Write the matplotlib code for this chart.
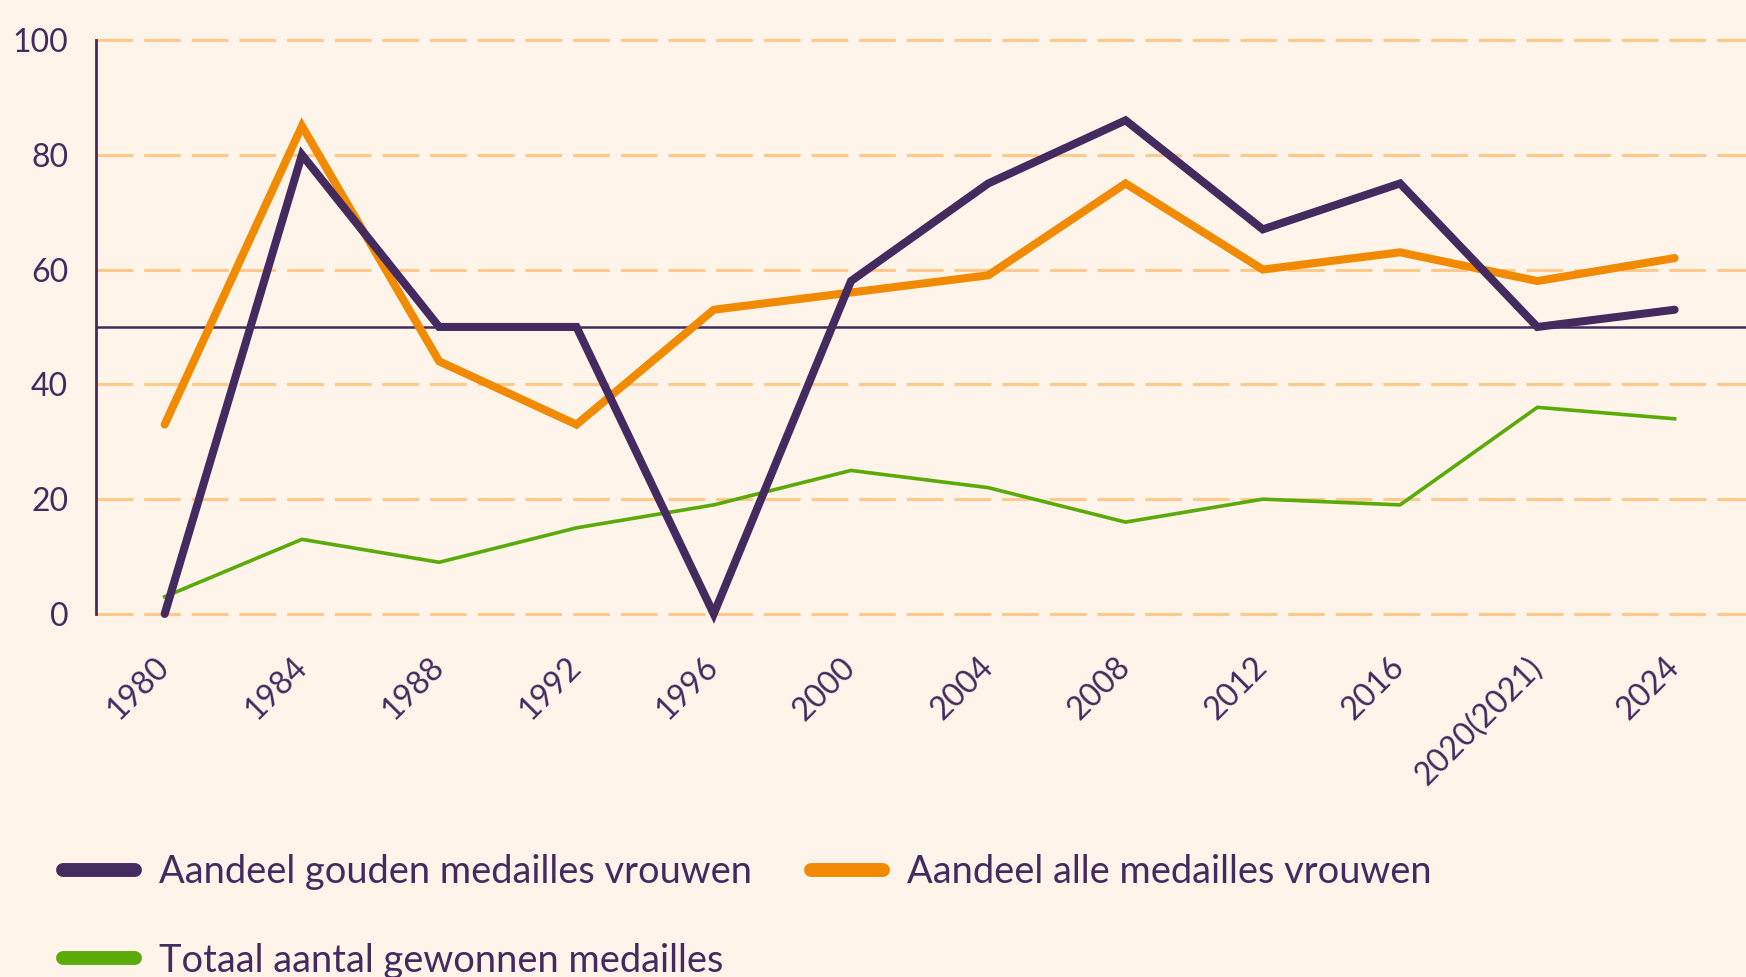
import matplotlib
matplotlib.use("Agg")
import matplotlib.pyplot as plt

plt.rcParams['font.family'] = ['Lato', 'DejaVu Sans']

years = ['1980', '1984', '1988', '1992', '1996', '2000', '2004', '2008',
         '2012', '2016', '2020(2021)', '2024']
gouden = [0, 80, 50, 50, 0, 58, 75, 86, 67, 75, 50, 53]
alle = [33, 85, 44, 33, 53, 56, 59, 75, 60, 63, 58, 62]
totaal = [3, 13, 9, 15, 19, 25, 22, 16, 20, 19, 36, 34]
yticks = [0, 20, 40, 60, 80, 100]

bg = '#FEF4EA'
purple = '#452A5F'
orange = '#F28A00'
green = '#5AAA0A'
gridc = '#FFC98C'

fig = plt.figure(figsize=(17.46, 9.77), dpi=100, facecolor=bg)
ax = fig.add_axes([0.055, 0.3716, 0.945, 0.5875], facecolor=bg)

x = list(range(len(years)))
for yv in yticks:
    ax.axhline(yv, color=gridc, lw=2.2, dashes=(12, 3.6), zorder=1, clip_on=False)
ax.axhline(50, color=purple, lw=1.8, zorder=2)

l_gold, = ax.plot(x, gouden, color=purple, lw=5.8, solid_joinstyle='miter',
                  solid_capstyle='round', zorder=4, clip_on=False,
                  label='Aandeel gouden medailles vrouwen')
l_alle, = ax.plot(x, alle, color=orange, lw=5.8, solid_joinstyle='miter',
                  solid_capstyle='round', zorder=3, clip_on=False,
                  label='Aandeel alle medailles vrouwen')
l_tot, = ax.plot(x, totaal, color=green, lw=2.6, zorder=3, clip_on=False,
                 label='Totaal aantal gewonnen medailles')

ax.set_xlim(-0.5, 11.52)
ax.set_ylim(0, 100)
ax.set_yticks(yticks)
ax.set_xticks(x)
ax.set_xticklabels(years, rotation=45, ha='right', va='center',
                   rotation_mode='anchor')
ax.tick_params(axis='both', length=0, labelsize=23, colors=purple)
ax.tick_params(axis='y', pad=20)
ax.tick_params(axis='x', pad=35)
for lab in ax.get_xticklabels():
    lab.set_x(lab.get_position()[0])

for s in ['top', 'right', 'bottom']:
    ax.spines[s].set_visible(False)
ax.spines['left'].set_color(purple)
ax.spines['left'].set_linewidth(2)

leg = fig.legend(handles=[l_gold, l_tot, l_alle], ncol=2, frameon=False,
                 loc='upper left', bbox_to_anchor=(0.036, 0.1257),
                 fontsize=27.4, labelcolor=purple, handlelength=1.9,
                 handletextpad=0.63, columnspacing=1.55, labelspacing=1.38,
                 borderpad=0, borderaxespad=0)
for h in leg.legend_handles:
    h.set_linewidth(10)
    h.set_solid_capstyle('round')

fig.savefig('out.png', dpi=100, facecolor=bg)
